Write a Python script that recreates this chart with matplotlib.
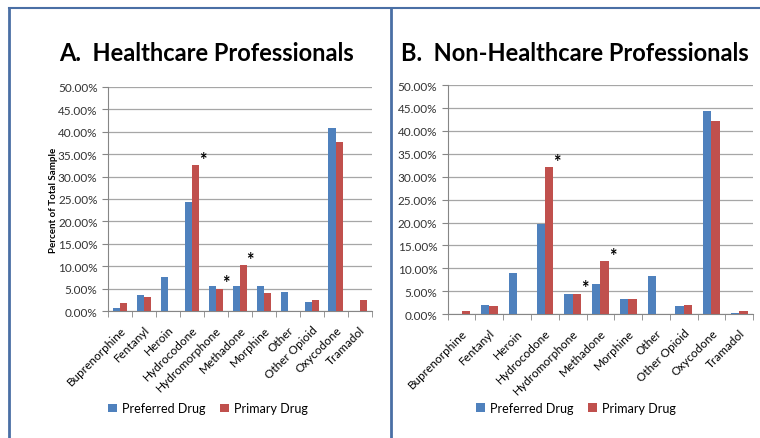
import numpy as np
import matplotlib.pyplot as plt
from matplotlib.lines import Line2D
from matplotlib.ticker import FixedLocator, PercentFormatter

plt.rcParams['font.family'] = ['Lato', 'DejaVu Sans']

drugs = ['Buprenorphine', 'Fentanyl', 'Heroin', 'Hydrocodone', 'Hydromorphone',
         'Methadone', 'Morphine', 'Other', 'Other Opioid', 'Oxycodone', 'Tramadol']

# panel A - healthcare professionals (percent)
hc_preferred = [0.6, 3.5, 7.6, 24.3, 5.5, 5.5, 5.5, 4.2, 2.1, 40.9, 0.0]
hc_primary = [1.9, 3.1, 0.0, 32.6, 5.0, 10.2, 4.0, 0.0, 2.5, 37.6, 2.5]

# panel B - non-healthcare professionals (percent)
nhc_preferred = [0.0, 2.0, 8.9, 19.6, 4.3, 6.5, 3.4, 8.3, 1.7, 44.3, 0.3]
nhc_primary = [0.8, 1.7, 0.0, 32.1, 4.5, 11.5, 3.4, 0.0, 2.1, 42.2, 0.8]

starred = ['Hydrocodone', 'Hydromorphone', 'Methadone']

blue = '#4F81BD'
red = '#C0504D'
frame = '#4A6FA5'

fig = plt.figure(figsize=(7.6, 4.39), dpi=100)


def panel(rect, title, pref, prim, title_x, legend_x, legend_y, ylabel=None):
    ax = fig.add_axes(rect)
    x = np.arange(len(drugs))
    w = 0.3
    ax.bar(x - w / 2, pref, w, color=blue, label='Preferred Drug', zorder=3)
    ax.bar(x + w / 2, prim, w, color=red, label='Primary Drug', zorder=3)
    for d in starred:
        i = drugs.index(d)
        ax.text(i + w + 0.14, prim[i] - 0.6, '*', fontsize=13, fontweight='bold',
                ha='center', va='bottom', zorder=4)
    ax.set_xlim(-0.5, len(drugs) - 0.5)
    ax.set_ylim(0, 50)
    ax.set_yticks(np.arange(0, 50.1, 5))
    ax.yaxis.set_major_formatter(PercentFormatter(decimals=2))
    ax.grid(axis='y', color='#A6A6A6', linewidth=0.9, zorder=0)
    ax.set_xticks(x)
    ax.set_xticklabels(drugs, rotation=45, ha='right', rotation_mode='anchor', fontsize=8.5)
    ax.xaxis.set_minor_locator(FixedLocator(np.arange(-0.5, len(drugs), 1)))
    ax.tick_params(axis='x', which='major', length=0, pad=9)
    ax.tick_params(axis='x', which='minor', length=4, color='#868686')
    ax.tick_params(axis='y', length=4, color='#868686', labelsize=8.5, labelcolor='#333333')
    for s in ['top', 'right']:
        ax.spines[s].set_visible(False)
    ax.spines['left'].set_color('#868686')
    ax.spines['bottom'].set_color('#868686')
    if ylabel:
        ax.set_ylabel(ylabel, fontsize=7, fontweight='bold')
        ax.yaxis.set_label_coords(-0.19, 0.5)
    fig.text(title_x, 0.878, title, fontsize=17, fontweight='bold', ha='center', va='center')
    ax.legend(loc='center', bbox_to_anchor=(legend_x, legend_y), ncol=2, frameon=False,
              fontsize=9, handlelength=0.7, handleheight=0.7, columnspacing=1.2,
              handletextpad=0.4)
    return ax


panel([0.142, 0.289, 0.347, 0.511], 'A.  Healthcare Professionals',
      hc_preferred, hc_primary, 0.272, 0.38, -0.433, ylabel='Percent of Total Sample')
panel([0.589, 0.282, 0.402, 0.522], 'B.  Non-Healthcare Professionals',
      nhc_preferred, nhc_primary, 0.757, 0.42, -0.41)

# outer frame lines
fig.add_artist(Line2D([9 / 760, 1], [1 - 9 / 439] * 2, color=frame, lw=1.5))
fig.add_artist(Line2D([9 / 760] * 2, [0, 1 - 9 / 439], color=frame, lw=2))
fig.add_artist(Line2D([391 / 760] * 2, [0, 1 - 9 / 439], color=frame, lw=2))

fig.savefig('out.png', dpi=100)
